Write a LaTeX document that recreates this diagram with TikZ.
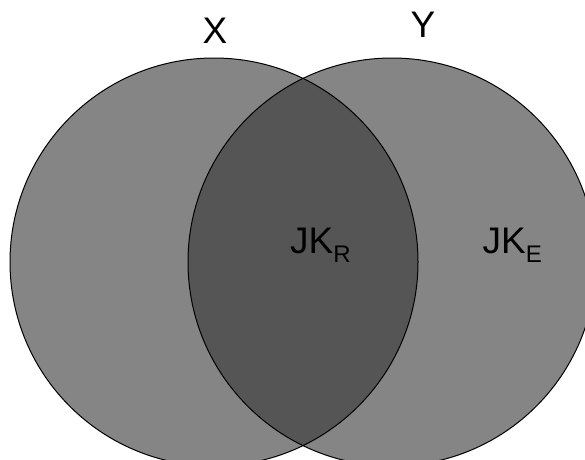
\documentclass[tikz,border=0pt]{standalone}
\usepackage{fontspec}
\setmainfont{Liberation Sans}
\definecolor{setgray}{RGB}{133,133,133}
\definecolor{meetgray}{RGB}{85,85,85}
\tikzset{
  setlabel/.style={font=\fontsize{37}{37}\selectfont, anchor=base, inner sep=0pt},
  partlabel/.style={font=\fontsize{37}{37}\selectfont, anchor=base west, inner sep=0pt}
}
\newcommand{\lowsub}[1]{\raisebox{-9.5pt}{\fontsize{24}{24}\selectfont #1}}
\begin{document}
\begin{tikzpicture}[x=1pt, y=-1pt]
  \useasboundingbox (0,0) rectangle (585,459);
  \clip (0,0) rectangle (585,459);
  \coordinate (cx) at (214,262);
  \coordinate (cy) at (392,262);
  \fill [ setgray ] (cx) circle [radius=204pt];
  \fill [ setgray ] (cy) circle [radius=204pt];
  \begin{scope}
    \clip (cx) circle [radius=204pt];
    \fill [ meetgray ] (cy) circle [radius=204pt];
  \end{scope}
  \draw [ line width=1pt ] (cx) circle [radius=204pt];
  \draw [ line width=1pt ] (cy) circle [radius=204pt];
  \node [ setlabel ] (xlab) at (215,43.5) { X };
  \node [ setlabel ] (ylab) at (423,37) { Y };
  \node [ partlabel ] (jkr) at (290,253.3) { JK\lowsub{R} };
  \node [ partlabel ] (jke) at (482.5,253.3) { JK\lowsub{E} };
\end{tikzpicture}
\end{document}
